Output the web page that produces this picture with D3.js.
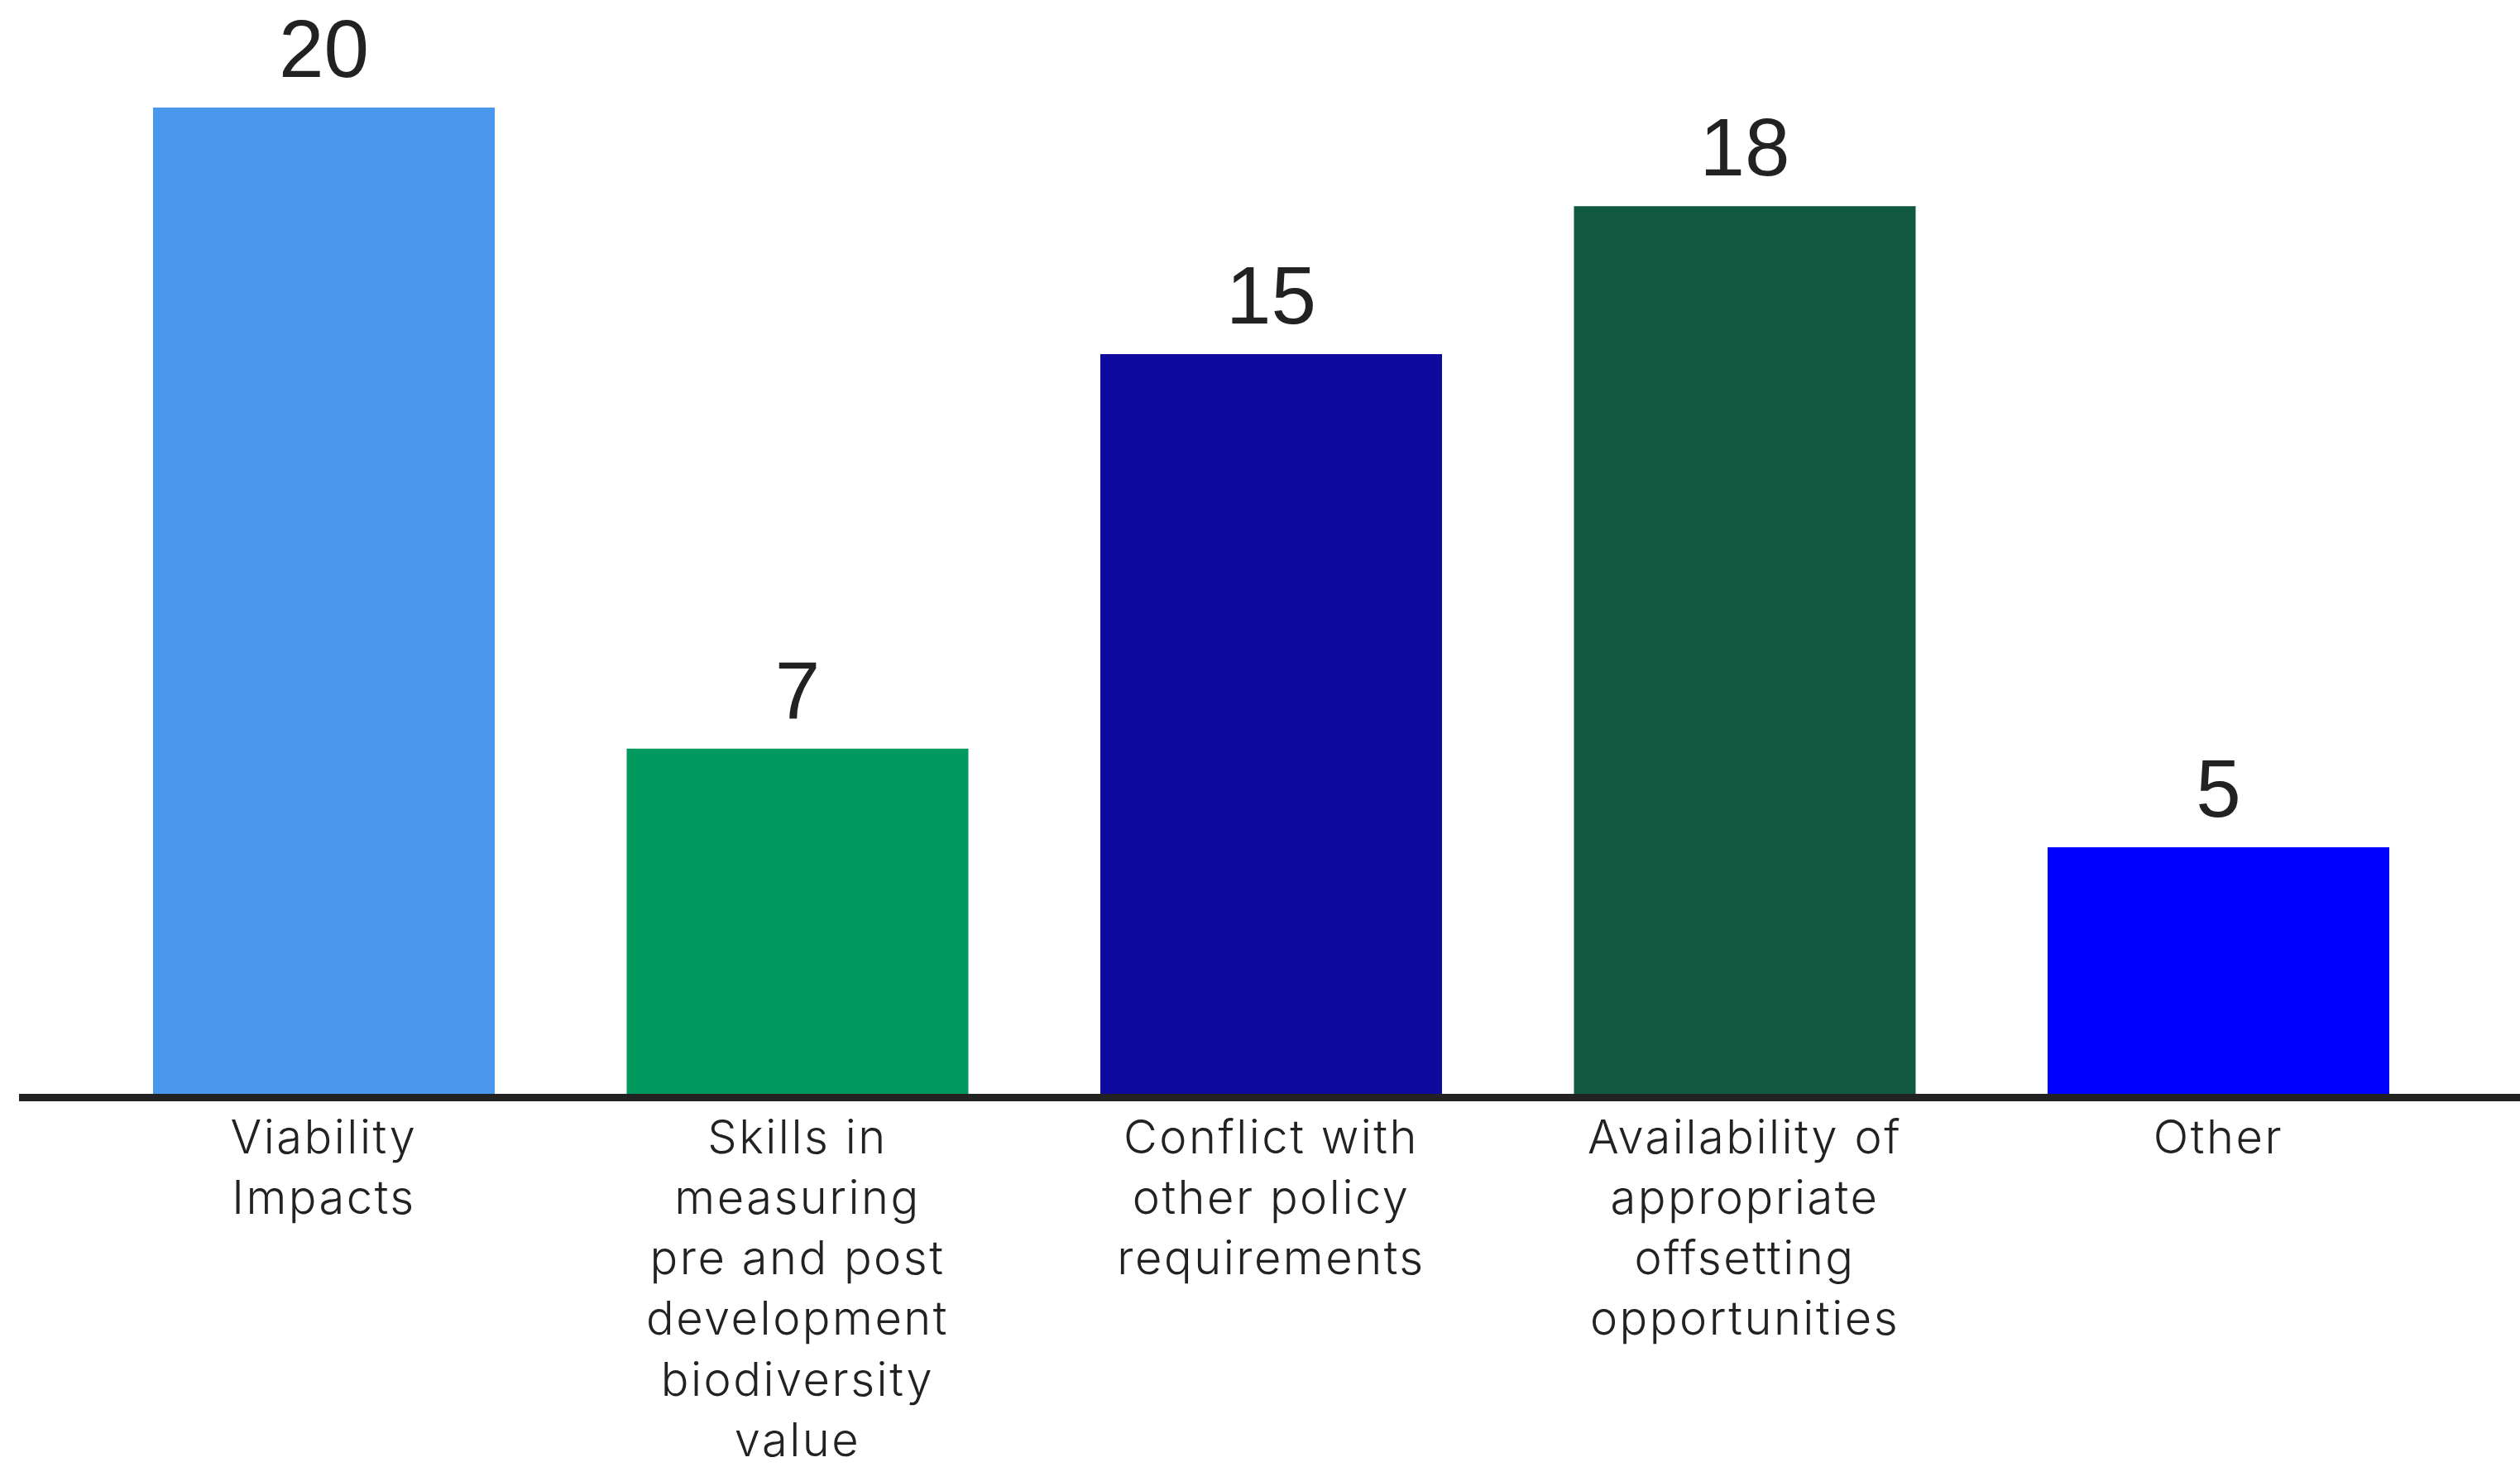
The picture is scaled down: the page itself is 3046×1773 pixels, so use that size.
<!DOCTYPE html>
<html>
<head>
<meta charset="utf-8">
<script src="https://cdn.jsdelivr.net/npm/d3@7"></script>
<style>
  html, body { margin: 0; padding: 0; background: #ffffff; }
  svg { display: block; }
</style>
</head>
<body>
<script>
// Barriers reported, by category
const categories = [
  "Viability\nImpacts",
  "Skills in\nmeasuring\npre and post\ndevelopment\nbiodiversity\nvalue",
  "Conflict with\nother policy\nrequirements",
  "Availability of\nappropriate\noffsetting\nopportunities",
  "Other"
];
const values = [20, 7, 15, 18, 5];
const barColors = ["#4a97ee", "#009a5e", "#0e0a9e", "#10583f", "#0000fe"];

const W = 3046, H = 1773;
const svg = d3.select("body").append("svg").attr("width", W).attr("height", H);

// first bar starts at 185, last bar ends at 2888
const x = d3.scaleBand()
  .domain(categories)
  .range([185, 2888])
  .paddingInner(0.2786)
  .paddingOuter(0);

const y = d3.scaleLinear().domain([0, 20]).range([1322, 130]);

// bars
svg.append("g").selectAll("rect")
  .data(values)
  .join("rect")
  .attr("x", (d, i) => x(categories[i]))
  .attr("width", x.bandwidth())
  .attr("y", d => y(d))
  .attr("height", d => y(0) - y(d))
  .attr("fill", (d, i) => barColors[i]);

// value labels
svg.append("g").selectAll("text")
  .data(values)
  .join("text")
  .attr("x", (d, i) => x(categories[i]) + x.bandwidth() / 2)
  .attr("y", d => y(d) - 37)
  .attr("text-anchor", "middle")
  .attr("font-family", "'Liberation Sans', Arial, sans-serif")
  .attr("font-size", 98)
  .attr("fill", "#222")
  .text(d => d);

// baseline axis
const axis = d3.axisBottom(x).tickSize(0).tickFormat("");
const gAxis = svg.append("g").attr("transform", `translate(0, ${y(0) + 4.5})`).call(axis);
gAxis.select(".domain").remove();
gAxis.append("line")
  .attr("x1", 23).attr("x2", W)
  .attr("stroke", "#222").attr("stroke-width", 9);

// category labels, wrapped onto several lines
gAxis.selectAll(".tick").each(function(d) {
  const t = d3.select(this).append("text")
    .attr("text-anchor", "middle")
    .attr("font-family", "Inter, 'Noto Sans', sans-serif")
    .attr("font-size", 56)
    .attr("font-weight", 300)
    .attr("letter-spacing", 2.5)
    .attr("fill", "#222");
  d.split("\n").forEach((line, k) => {
    t.append("tspan").attr("x", 0).attr("y", 67 + k * 73.3).text(line);
  });
});
</script>
</body>
</html>
